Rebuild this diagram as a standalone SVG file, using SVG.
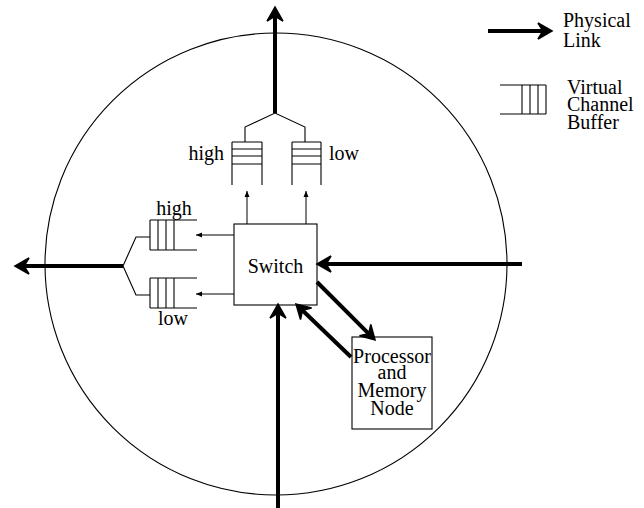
<svg xmlns="http://www.w3.org/2000/svg" width="644" height="508" viewBox="0 0 644 508">
<style>
.thin{fill:none;stroke:#000;stroke-width:1.1}
.thick{fill:none;stroke:#000;stroke-width:4}
.small{fill:none;stroke:#000;stroke-width:1}
text{font-family:"Liberation Serif","Times New Roman",serif;font-size:20px;fill:#000}
</style>
<defs>
<marker id="big" markerUnits="userSpaceOnUse" viewBox="-20 -12 26 24" markerWidth="26" markerHeight="24" refX="-6" refY="0" orient="auto">
<path d="M0,0 L-14,-8 L-9,0 L-14,8 Z" fill="#000" stroke="#000" stroke-width="1.5"/>
</marker>
<marker id="sm" markerUnits="userSpaceOnUse" viewBox="-8 -4 10 8" markerWidth="10" markerHeight="8" refX="0" refY="0" orient="auto">
<path d="M0,0 L-6,-2.5 L-6,2.5 Z" fill="#000"/>
</marker>
</defs>
<circle cx="276" cy="264" r="231" class="thin"/>
<g id="switch">
<rect x="234" y="224" width="83" height="81" class="thin" fill="#fff"/>
<text x="275.5" y="273" text-anchor="middle" font-size="21">Switch</text>
</g>
<g id="processor">
<rect x="352" y="337" width="80" height="92" class="thin" fill="#fff"/>
<text x="392" y="363" text-anchor="middle">Processor</text>
<text x="392" y="379" text-anchor="middle">and</text>
<text x="392" y="397" text-anchor="middle">Memory</text>
<text x="392" y="415" text-anchor="middle">Node</text>
</g>
<g id="buffer-top-high">
<path class="thin" d="M232,142 V185 M262,142 V185 M232,142 H262 M232,149 H262 M232,156 H262 M232,164 H262"/>
<text x="224" y="160" text-anchor="end">high</text>
</g>
<g id="buffer-top-low">
<path class="thin" d="M292,142 V185 M321,142 V185 M292,142 H321 M292,149 H321 M292,156 H321 M292,164 H321"/>
<text x="329" y="160">low</text>
</g>
<g id="buffer-left-high">
<path class="thin" d="M150,220 H197 M150,250 H197 M150,220 V250 M158,220 V250 M166,220 V250 M174,220 V250"/>
<text x="174" y="215" text-anchor="middle">high</text>
</g>
<g id="buffer-left-low">
<path class="thin" d="M150,278 H197 M150,308 H197 M150,278 V308 M158,278 V308 M166,278 V308 M174,278 V308"/>
<text x="173" y="325" text-anchor="middle">low</text>
</g>
<g id="legend">
<path class="thick" d="M488,31 H546" marker-end="url(#big)"/>
<text x="563" y="27">Physical</text>
<text x="563" y="47">Link</text>
<path class="thin" d="M500,85 H546 M500,114 H546 M546,85 V114 M522,85 V114 M530,85 V114 M538,85 V114"/>
<text x="567" y="94">Virtual</text>
<text x="567" y="111">Channel</text>
<text x="567" y="129">Buffer</text>
</g>
<g id="connectors">
<path class="thin" d="M245,142 V127 L275,113 L305,127 V142"/>
<path class="thin" d="M150,237 H136 L123,266 L136,295 H150"/>
<path class="thick" d="M275,113 V13" marker-end="url(#big)"/>
<path class="thick" d="M123,266 H21" marker-end="url(#big)"/>
<path class="thick" d="M522,264 H323" marker-end="url(#big)"/>
<path class="thick" d="M278,508 V310" marker-end="url(#big)"/>
<path class="thick" d="M317,282 L370.8,335.8" marker-end="url(#big)"/>
<path class="thick" d="M351,357 L300.3,308.2" marker-end="url(#big)"/>
<path class="small" d="M247,224 V191" marker-end="url(#sm)"/>
<path class="small" d="M306,224 V191" marker-end="url(#sm)"/>
<path class="small" d="M234,235 H196" marker-end="url(#sm)"/>
<path class="small" d="M234,294 H196" marker-end="url(#sm)"/>
</g>
</svg>
